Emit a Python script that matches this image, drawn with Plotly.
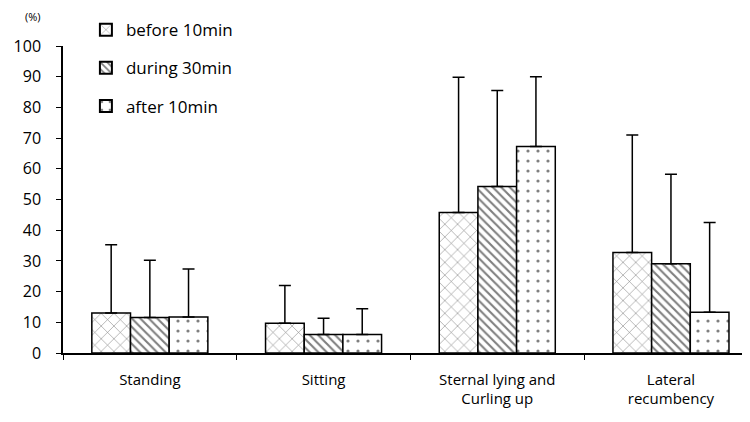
import plotly.graph_objects as go

categories = ["Standing", "Sitting", "Sternal lying and<br>Curling up", "Lateral<br>recumbency"]
series_names = ["before 10min", "during 30min", "after 10min"]
before_vals = [13.0, 9.7, 45.8, 32.7]
during_vals = [11.6, 6.0, 54.2, 29.1]
after_vals = [11.7, 6.0, 67.3, 13.3]
before_top = [35.3, 22.0, 89.8, 71.0]
during_top = [30.2, 11.3, 85.5, 58.2]
after_top = [27.4, 14.4, 90.0, 42.5]
y_ticks = [0, 10, 20, 30, 40, 50, 60, 70, 80, 90, 100]

values = [before_vals, during_vals, after_vals]
tops = [before_top, during_top, after_top]
patterns = [
    dict(shape="x", size=9, solidity=0.12),
    dict(shape="\\", size=6, solidity=0.35),
    dict(shape=".", size=10, solidity=0.08),
]

FONT = "'Open Sans', Lato, sans-serif"

fig = go.Figure()
for i, name in enumerate(series_names):
    vals = values[i]
    errs = [t - v for t, v in zip(tops[i], vals)]
    fig.add_trace(go.Bar(
        x=categories, y=vals, name=name, legendgroup=name,
        marker=dict(color="white", line=dict(color="black", width=1.5),
                    pattern=dict(fgcolor="black", bgcolor="white", **patterns[i])),
        error_y=dict(type="data", symmetric=False, array=errs,
                     arrayminus=[0] * len(vals), color="black",
                     thickness=1.5, width=6),
    ))

fig.update_layout(
    width=742, height=414,
    paper_bgcolor="white", plot_bgcolor="white",
    margin=dict(l=55, r=0, t=38, b=69, autoexpand=False),
    barmode="group", bargap=0.332, bargroupgap=0,
    font=dict(family=FONT, size=15, color="black"),
    showlegend=True,
    legend=dict(xref="container", yref="container", x=0.105, y=0.99,
                xanchor="left", yanchor="top", tracegroupgap=13,
                bgcolor="rgba(0,0,0,0)", font=dict(size=17, family=FONT),
                itemsizing="constant"),
    xaxis=dict(range=[-0.5, 3.455], showline=True, linecolor="black", linewidth=1.5,
               ticks="outside", tickson="boundaries", ticklen=5, tickcolor="black",
               showgrid=False, zeroline=False, tickfont=dict(size=15, family=FONT),
               ticklabelstandoff=12),
    yaxis=dict(range=[0, 100], tickvals=y_ticks, showline=True, linecolor="black",
               linewidth=1.5, ticks="outside", ticklen=5, tickcolor="black",
               showgrid=False, zeroline=False, tickfont=dict(size=16, family=FONT),
               ticklabelstandoff=12),
    annotations=[dict(text="(%)", xref="paper", yref="paper", x=-0.0437, y=1.096,
                      xanchor="center", yanchor="middle", showarrow=False,
                      font=dict(size=11, family=FONT))],
)

fig.write_html("out.html")
